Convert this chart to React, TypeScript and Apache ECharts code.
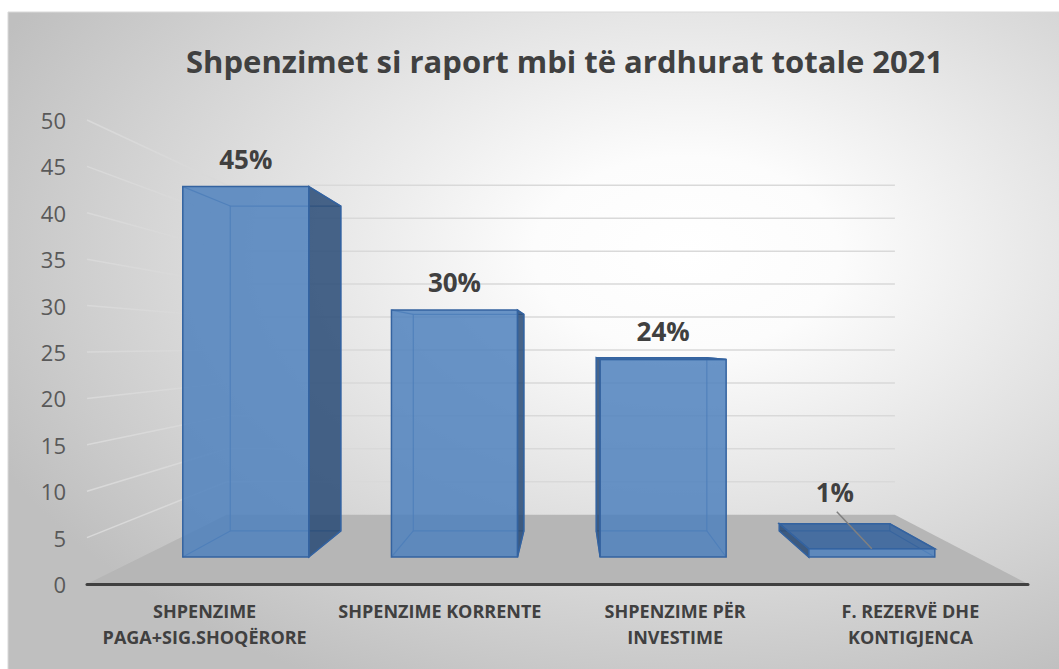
import React, { useEffect, useRef } from "react";
import * as echarts from "echarts";

const titleText = "Shpenzimet si raport mbi të ardhurat totale 2021";
const categories = [
  "SHPENZIME\nPAGA+SIG.SHOQËRORE",
  "SHPENZIME KORRENTE",
  "SHPENZIME PËR\nINVESTIME",
  "F. REZERVË DHE\nKONTIGJENCA",
];
const values = [45, 30, 24, 1];
const yTicks = [0, 5, 10, 15, 20, 25, 30, 35, 40, 45, 50];

// perspective layout (one-point perspective like Excel 3-D column)
const VP_X = 569;
const VP_Y = 345;
const S_WALL = 0.71;
const S_BAR_FRONT = 0.887;
const S_BAR_BACK = 0.778;
const BAR_RATIO = 0.604;

const FONT = "'Open Sans', 'Noto Sans', sans-serif";

function proj(x: number, y: number, s: number): number[] {
  return [VP_X + s * (x - VP_X), VP_Y + s * (y - VP_Y)];
}

export default function App() {
  const ref = useRef<HTMLDivElement>(null);
  useEffect(() => {
    if (!ref.current) return;
    const chart = echarts.init(ref.current, undefined, { renderer: "svg" });

    const wallRender = (params: any, api: any) => {
      const cs = params.coordSys;
      const x0 = cs.x;
      const x1 = cs.x + cs.width;
      const v = api.value(1);
      const y = api.coord([0, v])[1];
      const bl = proj(x0, y, S_WALL);
      const br = proj(x1, y, S_WALL);
      if (v === 0) {
        return {
          type: "polygon",
          shape: { points: [[x0, y], [x1, y], br, bl] },
          style: { fill: "#b6b6b6", stroke: "none" },
        };
      }
      return {
        type: "group",
        children: [
          {
            type: "line",
            shape: { x1: x0, y1: y, x2: bl[0], y2: bl[1] },
            style: { stroke: "#d9d9d9", lineWidth: 1.5 },
          },
          {
            type: "line",
            shape: { x1: bl[0], y1: bl[1], x2: br[0], y2: br[1] },
            style: { stroke: "#d9d9d9", lineWidth: 1.5 },
          },
        ],
      };
    };

    const edge = "#3463a0";
    const barRender = (params: any, api: any) => {
      const idx = api.value(0);
      const v = api.value(1);
      const base = api.coord([idx, 0]);
      const top = api.coord([idx, v]);
      const bw = api.size([1, 0])[0] * BAR_RATIO;
      const xl = base[0] - bw / 2;
      const xr = base[0] + bw / 2;
      const yb = base[1];
      const yt = top[1];
      const F = {
        lb: proj(xl, yb, S_BAR_FRONT),
        rb: proj(xr, yb, S_BAR_FRONT),
        rt: proj(xr, yt, S_BAR_FRONT),
        lt: proj(xl, yt, S_BAR_FRONT),
      };
      const B = {
        lb: proj(xl, yb, S_BAR_BACK),
        rb: proj(xr, yb, S_BAR_BACK),
        rt: proj(xr, yt, S_BAR_BACK),
        lt: proj(xl, yt, S_BAR_BACK),
      };
      const children: any[] = [];
      const hidden = { stroke: edge, lineWidth: 1.2, fill: "none", opacity: 0.8 };
      children.push({
        type: "polygon",
        shape: { points: [B.lb, B.rb, B.rt, B.lt] },
        style: hidden,
      });
      (["lb", "rb", "rt", "lt"] as const).forEach((k) => {
        children.push({
          type: "line",
          shape: { x1: F[k][0], y1: F[k][1], x2: B[k][0], y2: B[k][1] },
          style: hidden,
        });
      });
      const sideStyle = { fill: "rgba(40,74,118,0.85)", stroke: edge, lineWidth: 1.5 };
      if (F.lt[0] > VP_X) {
        children.push({
          type: "polygon",
          shape: { points: [F.lb, F.lt, B.lt, B.lb] },
          style: sideStyle,
        });
      }
      if (F.rt[0] < VP_X) {
        children.push({
          type: "polygon",
          shape: { points: [F.rb, F.rt, B.rt, B.rb] },
          style: sideStyle,
        });
      }
      if (F.lt[1] > VP_Y) {
        children.push({
          type: "polygon",
          shape: { points: [F.lt, F.rt, B.rt, B.lt] },
          style: { fill: "rgba(52,98,156,0.85)", stroke: edge, lineWidth: 1.5 },
        });
      }
      children.push({
        type: "polygon",
        shape: { points: [F.lb, F.rb, F.rt, F.lt] },
        style: { fill: "rgba(79,129,189,0.85)", stroke: edge, lineWidth: 1.5 },
      });
      const cx = (F.lt[0] + F.rt[0]) / 2;
      const cy = F.lt[1];
      const label = v + "%";
      const textStyle = {
        fill: "#404040",
        font: "bold 26px " + FONT,
        align: "center",
        verticalAlign: "middle",
      };
      if (v < 5) {
        children.push({
          type: "line",
          shape: { x1: cx - 35, y1: cy - 37, x2: cx, y2: cy },
          style: { stroke: "#808080", lineWidth: 1.5 },
        });
        children.push({
          type: "text",
          x: cx - 37,
          y: cy - 57,
          style: { ...textStyle, text: label },
        });
      } else {
        children.push({
          type: "text",
          x: cx,
          y: cy - 28,
          style: { ...textStyle, text: label },
        });
      }
      return { type: "group", children };
    };

    chart.setOption({
      animation: false,
      backgroundColor: "#ffffff",
      title: {
        text: titleText,
        left: 181,
        top: 40,
        textStyle: {
          fontFamily: FONT,
          fontWeight: "bold",
          fontSize: 31,
          color: "#404040",
        },
      },
      graphic: [
        {
          type: "rect",
          z: -100,
          shape: { x: 8, y: 12, width: 1060, height: 670 },
          style: {
            fill: new echarts.graphic.RadialGradient(0.64, 0.36, 0.72, [
              { offset: 0, color: "#ffffff" },
              { offset: 0.2, color: "#fcfcfc" },
              { offset: 1, color: "#bfbfbf" },
            ]),
            stroke: "#d9d9d9",
            lineWidth: 1,
          },
        },
      ],
      grid: { left: 87, right: 31, top: 120, bottom: 85 },
      xAxis: {
        type: "category",
        data: categories,
        axisTick: { show: false },
        axisLine: { show: true, lineStyle: { color: "#404040", width: 3 } },
        axisLabel: {
          margin: 14,
          fontFamily: FONT,
          fontWeight: "bold",
          fontSize: 18,
          lineHeight: 26,
          color: "#404040",
          interval: 0,
        },
        splitLine: { show: false },
        z: 5,
      },
      yAxis: {
        type: "value",
        min: 0,
        max: 50,
        interval: 5,
        axisLine: { show: false },
        axisTick: { show: false },
        splitLine: { show: false },
        axisLabel: {
          margin: 21,
          fontFamily: FONT,
          fontSize: 22,
          color: "#595959",
        },
      },
      series: [
        {
          type: "custom",
          name: "walls",
          z: -1,
          renderItem: wallRender,
          data: yTicks.map((t) => [0, t]),
          silent: true,
        },
        {
          type: "custom",
          name: "bars",
          z: 3,
          renderItem: barRender,
          data: values.map((v, i) => [i, v]),
        },
      ],
    });
    return () => chart.dispose();
  }, []);
  return (
    <div
      ref={ref}
      style={{ position: "fixed", left: 0, top: 0, width: 1059, height: 669 }}
    />
  );
}
